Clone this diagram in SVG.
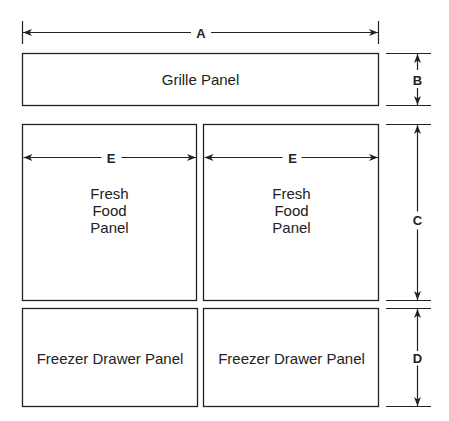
<svg xmlns="http://www.w3.org/2000/svg" width="449" height="421" viewBox="0 0 449 421">
<style>
.panel{fill:#fff;stroke:#222;stroke-width:1.3}
.t{font-family:"Liberation Sans",Arial,sans-serif;font-size:15px;fill:#222;text-anchor:middle}
.lbl{font-family:"Liberation Sans",Arial,sans-serif;font-size:13px;font-weight:bold;fill:#222;text-anchor:middle}
.dim{stroke:#222;stroke-width:1.2;fill:none}
.ext{stroke:#222;stroke-width:1.2;fill:none}
</style>
<defs>
<marker id="ah" viewBox="0 0 9 7" refX="9" refY="3.5" markerWidth="9" markerHeight="7" markerUnits="userSpaceOnUse" orient="auto-start-reverse">
<path d="M0,0 L9,3.5 L0,7 L2.5,3.5 Z" fill="#222"/>
</marker>
</defs>
<rect width="449" height="421" fill="#fff"/>
<g id="grille-panel">
<rect class="panel" x="22.5" y="53.5" width="356" height="52"/>
<text class="t" x="200.5" y="85">Grille Panel</text>
</g>
<g id="fresh-food-left">
<rect class="panel" x="22.5" y="124.5" width="174" height="176"/>
<text class="t" x="109.5" y="199">Fresh</text>
<text class="t" x="109.5" y="216">Food</text>
<text class="t" x="109.5" y="233">Panel</text>
</g>
<g id="fresh-food-right">
<rect class="panel" x="203.5" y="124.5" width="175" height="176"/>
<text class="t" x="291.5" y="199">Fresh</text>
<text class="t" x="291.5" y="216">Food</text>
<text class="t" x="291.5" y="233">Panel</text>
</g>
<g id="freezer-left">
<rect class="panel" x="22.5" y="308.5" width="175" height="98"/>
<text class="t" x="110" y="363.5">Freezer Drawer Panel</text>
</g>
<g id="freezer-right">
<rect class="panel" x="203.5" y="308.5" width="175" height="98"/>
<text class="t" x="291.5" y="363.5">Freezer Drawer Panel</text>
</g>
<g id="connectors">
<line class="ext" x1="22.5" y1="21" x2="22.5" y2="44"/>
<line class="ext" x1="378.5" y1="21" x2="378.5" y2="44"/>
<line class="dim" x1="191" y1="32.5" x2="23" y2="32.5" marker-end="url(#ah)"/>
<line class="dim" x1="211" y1="32.5" x2="378" y2="32.5" marker-end="url(#ah)"/>
<line class="ext" x1="386" y1="53.5" x2="431" y2="53.5"/>
<line class="ext" x1="386" y1="105.5" x2="431" y2="105.5"/>
<line class="ext" x1="386" y1="124.5" x2="431" y2="124.5"/>
<line class="ext" x1="386" y1="300.5" x2="431" y2="300.5"/>
<line class="ext" x1="386" y1="308.5" x2="431" y2="308.5"/>
<line class="ext" x1="386" y1="406.5" x2="431" y2="406.5"/>
<line class="dim" x1="417.5" y1="70" x2="417.5" y2="54" marker-end="url(#ah)"/>
<line class="dim" x1="417.5" y1="88" x2="417.5" y2="105" marker-end="url(#ah)"/>
<line class="dim" x1="417.5" y1="211.5" x2="417.5" y2="125" marker-end="url(#ah)"/>
<line class="dim" x1="417.5" y1="229.5" x2="417.5" y2="300" marker-end="url(#ah)"/>
<line class="dim" x1="417.5" y1="351" x2="417.5" y2="309" marker-end="url(#ah)"/>
<line class="dim" x1="417.5" y1="365.5" x2="417.5" y2="406" marker-end="url(#ah)"/>
<line class="dim" x1="101.5" y1="157.5" x2="23.5" y2="157.5" marker-end="url(#ah)"/>
<line class="dim" x1="121.5" y1="157.5" x2="196" y2="157.5" marker-end="url(#ah)"/>
<line class="dim" x1="282.5" y1="157.5" x2="204.5" y2="157.5" marker-end="url(#ah)"/>
<line class="dim" x1="301.5" y1="157.5" x2="378" y2="157.5" marker-end="url(#ah)"/>
</g>
<g id="labels">
<text class="lbl" x="201" y="37.5">A</text>
<text class="lbl" x="417.5" y="85">B</text>
<text class="lbl" x="417.5" y="225">C</text>
<text class="lbl" x="417.5" y="363">D</text>
<text class="lbl" x="111" y="162.5">E</text>
<text class="lbl" x="292.5" y="162.5">E</text>
</g>
</svg>
